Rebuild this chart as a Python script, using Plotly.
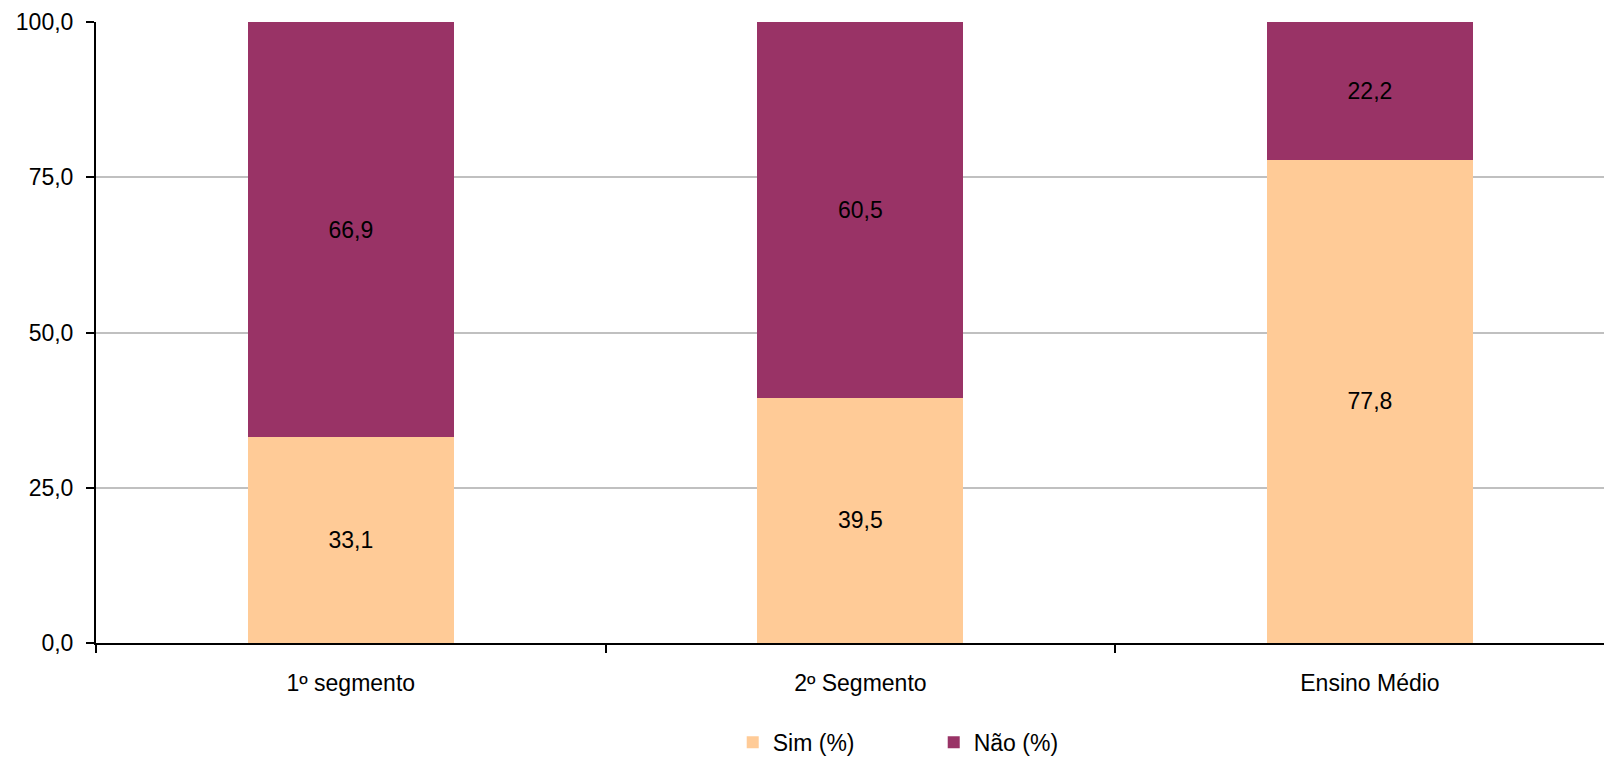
import plotly.graph_objects as go

categories = ["1º segmento", "2º Segmento", "Ensino Médio"]
sim = [33.1, 39.5, 77.8]
nao = [66.9, 60.5, 22.2]
y_ticks = [0, 25, 50, 75, 100]

font_family = "Liberation Sans, Arial, sans-serif"
FS = 23

fig = go.Figure()
fig.add_trace(go.Bar(
    x=categories, y=sim, name="Sim (%)",
    marker=dict(color="#FFCB97", line=dict(width=0)),
    text=[f"{v:.1f}".replace(".", ",") for v in sim],
    textposition="inside", insidetextanchor="middle",
    textfont=dict(size=FS, color="black", family=font_family),
))
fig.add_trace(go.Bar(
    x=categories, y=nao, name="Não (%)",
    marker=dict(color="#993366", line=dict(width=0)),
    text=[f"{v:.1f}".replace(".", ",") for v in nao],
    textposition="inside", insidetextanchor="middle",
    textfont=dict(size=FS, color="black", family=font_family),
))

fig.update_layout(
    barmode="stack",
    bargap=0.596,
    width=1604, height=750,
    margin=dict(l=88, r=0, t=14, b=115, autoexpand=False),
    plot_bgcolor="white", paper_bgcolor="white",
    separators=",.",
    font=dict(family=font_family, size=FS, color="black"),
    showlegend=True,
    legend=dict(orientation="h", x=0.42, xanchor="left", y=-0.16, yanchor="middle",
                font=dict(size=FS), entrywidth=156, traceorder="normal"),
    uniformtext=dict(mode=False),
)
fig.update_xaxes(
    range=[-0.5, 2.475],
    showline=True, linecolor="black", linewidth=2,
    ticks="outside", tickson="boundaries", ticklen=8, tickwidth=2, tickcolor="black",
    ticklabelstandoff=18,
    showgrid=False,
)
fig.update_yaxes(
    range=[0, 100], tickvals=y_ticks, tickformat=".1f",
    showline=True, linecolor="black", linewidth=2,
    ticks="outside", ticklen=8, tickwidth=2, tickcolor="black",
    ticklabelstandoff=8,
    showgrid=True, gridcolor="#C0C0C0", gridwidth=2,
    zeroline=False,
)

fig.write_html("out.html")
